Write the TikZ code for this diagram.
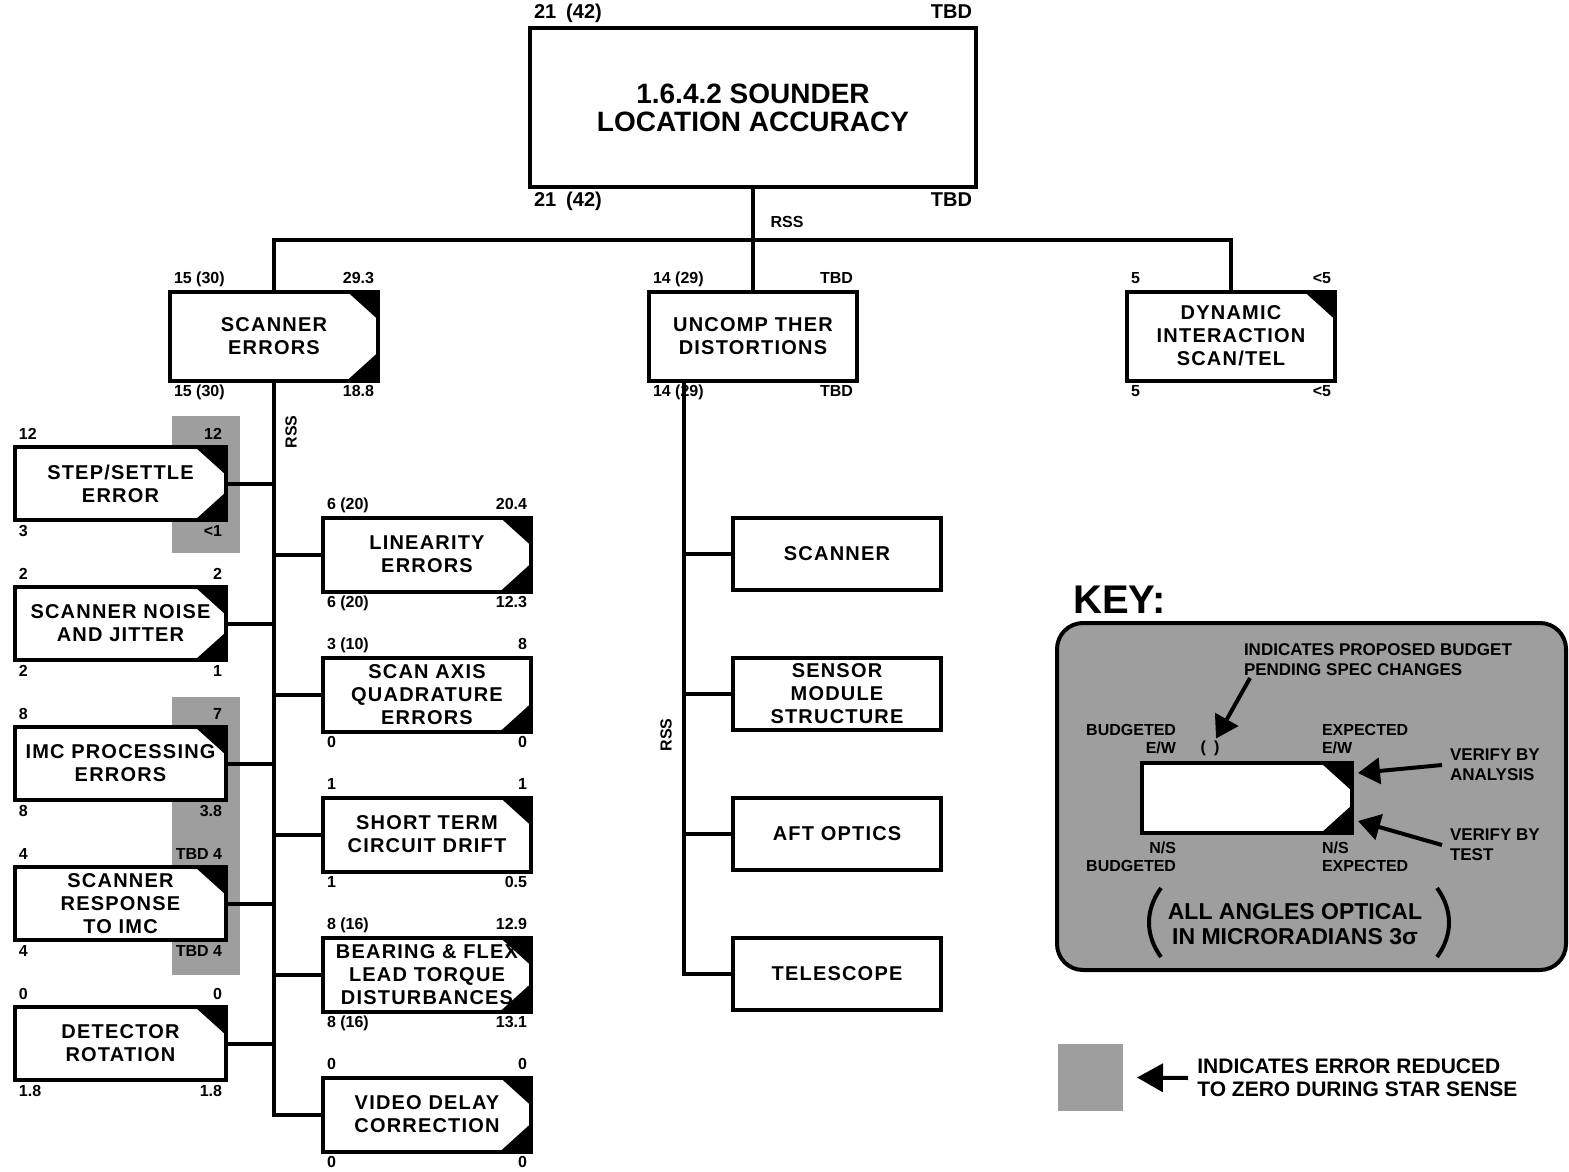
\documentclass[tikz,border=0pt]{standalone}
\usepackage{fontspec}
\setmainfont{Liberation Sans}
\newfontfamily\spacedfont{Liberation Sans}[LetterSpace=6]
\usetikzlibrary{arrows.meta,positioning}

\begin{document}
\begin{tikzpicture}[
  x=1pt,y=-1pt,
  line width=4pt,
  font=\bfseries,
  budbox/.style={draw,fill=white,outer sep=0pt,inner sep=0pt,align=center,
    font=\spacedfont\bfseries\fontsize{20}{23}\selectfont,
    minimum width=208pt,minimum height=73pt},
  numlab/.style={font=\bfseries\fontsize{16}{16}\selectfont,inner xsep=2pt,inner ysep=2pt,
    text height=12pt,text depth=4pt},
  bignum/.style={font=\bfseries\fontsize{20}{20}\selectfont,inner xsep=2pt,inner ysep=2pt,
    text height=15pt,text depth=5pt},
  budtop/.style={label={[numlab,anchor=south west]north west:#1}},
  exptop/.style={label={[numlab,anchor=south east]north east:#1}},
  budbot/.style={label={[numlab,anchor=north west]south west:#1}},
  expbot/.style={label={[numlab,anchor=north east]south east:#1}},
  stipple/.style={fill=black!38},
  rsslab/.style={font=\bfseries\fontsize{16}{16}\selectfont},
  keylab/.style={font=\bfseries\fontsize{16}{18}\selectfont,inner sep=0pt},
  keytext/.style={font=\bfseries\fontsize{17}{20}\selectfont,inner sep=0pt},
  keyarrow/.style={-{Triangle[length=22pt,width=26pt]},line width=4pt}
]
\path[fill=white] (0,0) rectangle (1569,1172);
\useasboundingbox (0,0) rectangle (1569,1172);

% star sense columns
\fill[stipple] (172,416) rectangle (240,553);
\fill[stipple] (172,697) rectangle (240,975);

% top of the tree
\node[budbox,minimum width=446pt,minimum height=159pt,
  font=\bfseries\fontsize{28}{28}\selectfont,
  label={[bignum,anchor=south west]north west:21\enspace(42)},
  label={[bignum,anchor=south east]north east:TBD},
  label={[bignum,anchor=north west]south west:21\enspace(42)},
  label={[bignum,anchor=north east]south east:TBD}] (loc) at (753,107.5)
  {1.6.4.2 SOUNDER\\LOCATION ACCURACY};

\node[budbox,minimum height=89pt,budtop=15 (30),exptop=29.3,budbot=15 (30),expbot=18.8]
  (scan) at (274,336) {SCANNER\\ERRORS};
\node[budbox,minimum height=89pt,budtop=14 (29),exptop=TBD,budbot=14 (29),expbot=TBD]
  (uncomp) at (753,336) {UNCOMP THER\\DISTORTIONS};
\node[budbox,minimum height=89pt,budtop=5,exptop=<5,budbot=5,expbot=<5]
  (dyn) at (1231,336) {DYNAMIC\\INTERACTION\\SCAN/TEL};

% scanner errors, left column
\node[budbox,minimum width=211pt,budtop=12,exptop=12,budbot=3,expbot=<1]
  (step) at (120.5,483.5) {STEP/SETTLE\\ERROR};
\node[budbox,minimum width=211pt,budtop=2,exptop=2,budbot=2,expbot=1,
  below=67pt of step] (noise) {SCANNER NOISE\\AND JITTER};
\node[budbox,minimum width=211pt,budtop=8,exptop=7,budbot=8,expbot=3.8,
  below=67pt of noise] (imc) {IMC PROCESSING\\ERRORS};
\node[budbox,minimum width=211pt,budtop=4,exptop=TBD 4,budbot=4,expbot=TBD 4,
  below=67pt of imc] (resp) {SCANNER\\RESPONSE\\TO IMC};
\node[budbox,minimum width=211pt,budtop=0,exptop=0,budbot=1.8,expbot=1.8,
  below=67pt of resp] (det) {DETECTOR\\ROTATION};

% scanner errors, right column
\node[budbox,minimum height=74pt,budtop=6 (20),exptop=20.4,budbot=6 (20),expbot=12.3]
  (lin) at (427,554.5) {LINEARITY\\ERRORS};
\node[budbox,minimum height=74pt,budtop=3 (10),exptop=8,budbot=0,expbot=0,
  below=66pt of lin] (quad) {SCAN AXIS\\QUADRATURE\\ERRORS};
\node[budbox,minimum height=74pt,budtop=1,exptop=1,budbot=1,expbot=0.5,
  below=66pt of quad] (drift) {SHORT TERM\\CIRCUIT DRIFT};
\node[budbox,minimum height=74pt,budtop=8 (16),exptop=12.9,budbot=8 (16),expbot=13.1,
  below=66pt of drift] (bear) {BEARING \& FLEX\\LEAD TORQUE\\DISTURBANCES};
\node[budbox,minimum height=74pt,budtop=0,exptop=0,budbot=0,expbot=0,
  below=66pt of bear] (video) {VIDEO DELAY\\CORRECTION};

% thermal distortions
\node[budbox,minimum height=72pt] (scn) at (837,554) {SCANNER};
\node[budbox,minimum height=72pt,below=68pt of scn] (sens) {SENSOR\\MODULE\\STRUCTURE};
\node[budbox,minimum height=72pt,below=68pt of sens] (aft) {AFT OPTICS};
\node[budbox,minimum height=72pt,below=68pt of aft] (tel) {TELESCOPE};

% tree lines
\coordinate (bus) at (753,240);
\coordinate (mspine) at (684,0);
\draw (loc.south) -- (bus);
\draw (scan.north) |- (bus) -| (dyn.north);
\draw (bus) -- (uncomp.north);
\draw (scan.south) |- (video.west);
\foreach \n in {step,noise,imc,resp,det}
  \draw (\n.east) -- (\n.east -| scan.south);
\foreach \n in {lin,quad,drift,bear}
  \draw (\n.west -| scan.south) -- (\n.west);
\draw (uncomp.south -| mspine) |- (tel.west);
\foreach \n in {scn,sens,aft}
  \draw (\n.west -| mspine) -- (\n.west);

\node[rsslab] (rss1) at (787,222) {RSS};
\node[rsslab,rotate=90] (rss2) at (291,432) {RSS};
\node[rsslab,rotate=90] (rss3) at (666,735) {RSS};

% key
\node[font=\bfseries\fontsize{40}{40}\selectfont,anchor=west] (keyhead) at (1068,600) {KEY:};
\draw[stipple,rounded corners=26pt] (1057,623) rectangle (1566,970);
\node[budbox,minimum width=210pt,minimum height=70pt] (keybox) at (1247,798) {};
\node[keylab,anchor=south east,align=right] (kbt) at (1178,756) {BUDGETED\\E/W};
\node[keylab,anchor=south west,align=left] (ket) at (1320,756) {EXPECTED\\E/W};
\node[keylab,anchor=north east,align=right] (kbb) at (1178,840) {N/S\\BUDGETED};
\node[keylab,anchor=north west,align=left] (keb) at (1320,840) {N/S\\EXPECTED};
\node[keylab] (paren) at (1210,748) {(\enspace)};
\node[keytext,anchor=north west,align=left] (pend) at (1242,642)
  {INDICATES PROPOSED BUDGET\\PENDING SPEC CHANGES};
\node[keytext,anchor=west,align=left] (vana) at (1448,765) {VERIFY BY\\ANALYSIS};
\node[keytext,anchor=west,align=left] (vtest) at (1448,845) {VERIFY BY\\TEST};
\draw[keyarrow] ([xshift=-6pt]vana.west) -- ([xshift=6pt,yshift=-10pt]keybox.north east);
\draw[keyarrow] ([xshift=-6pt]vtest.west) -- ([xshift=6pt,yshift=12pt]keybox.south east);
\draw[keyarrow] ([xshift=8pt]pend.south west) -- ([xshift=6pt]paren.north);
\node[font=\bfseries\fontsize{23}{25}\selectfont,align=center] (units) at (1295,924)
  {ALL ANGLES OPTICAL\\IN MICRORADIANS 3σ};
\draw (1161,888) .. controls (1145,910) and (1145,935) .. (1161,957);
\draw (1437,888) .. controls (1453,910) and (1453,935) .. (1437,957);

% verified by analysis (top corner) and by test (bottom corner)
\foreach \n in {scan,dyn,step,noise,imc,resp,det,lin,drift,bear,video,keybox}
  \fill (\n.north east) -- ++(-31pt,0pt) -- ++(31pt,-28pt) -- cycle;
\foreach \n in {scan,step,noise,lin,quad,bear,video,keybox}
  \fill (\n.south east) -- ++(-31pt,0pt) -- ++(31pt,28pt) -- cycle;

% star sense legend
\node[stipple,minimum width=65pt,minimum height=67pt] (zsq) at (1090.5,1077.5) {};
\node[font=\bfseries\fontsize{21}{23}\selectfont,anchor=west,align=left] (ztext) at (1192,1078)
  {INDICATES ERROR REDUCED\\TO ZERO DURING STAR SENSE};
\draw[keyarrow,-{Triangle[length=26pt,width=28pt]}] ([xshift=-4pt]ztext.west) -- ([xshift=12pt]zsq.east);
\end{tikzpicture}
\end{document}
